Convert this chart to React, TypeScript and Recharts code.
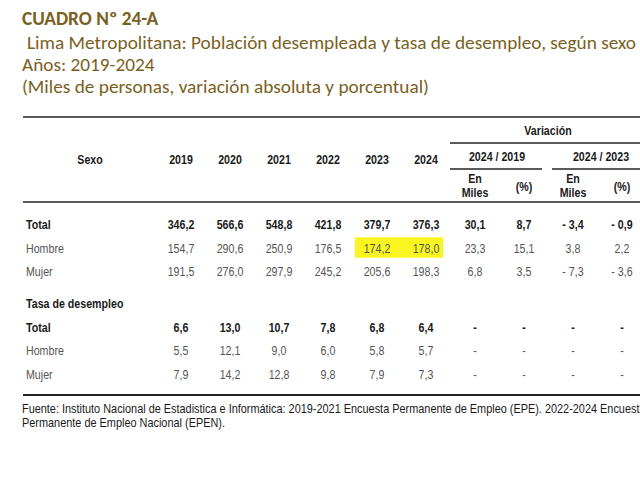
import React from 'react';
import { ScatterChart, Scatter, XAxis, YAxis, ReferenceArea, Customized } from 'recharts';

// ---------- DATA ----------
const years = ['2019', '2020', '2021', '2022', '2023', '2024'];
const rowLabels = ['Total', 'Hombre', 'Mujer'];
const tasaTitle = 'Tasa de desempleo';
const variationTitle = 'Variación';
const variationGroups = ['2024 / 2019', '2024 / 2023'];

// Miles de personas: 2019..2024, var 24/19 (miles, %), var 24/23 (miles, %)
const totalMiles = [346.2, 566.6, 548.8, 421.8, 379.7, 376.3, 30.1, 8.7, -3.4, -0.9];
const hombreMiles = [154.7, 290.6, 250.9, 176.5, 174.2, 178.0, 23.3, 15.1, 3.8, 2.2];
const mujerMiles = [191.5, 276.0, 297.9, 245.2, 205.6, 198.3, 6.8, 3.5, -7.3, -3.6];

// Tasa de desempleo (%): variations not available
const totalTasa = [6.6, 13.0, 10.7, 7.8, 6.8, 6.4, null, null, null, null];
const hombreTasa = [5.5, 12.1, 9.0, 6.0, 5.8, 5.7, null, null, null, null];
const mujerTasa = [7.9, 14.2, 12.8, 9.8, 7.9, 7.3, null, null, null, null];

// ---------- LAYOUT ----------
const W = 640;
const H = 480;
const COL0 = 181;
const COL_W = 49;
const LABEL_PX = 26;
const ROW_H = 23.4;
const TOP_A = 225;
const TOP_B = 304;
const NARROW = 0.82;

const TABLE_FONT = "'Liberation Sans', Arial, sans-serif";
const TITLE_FONT = "Carlito, Calibri, Lato, sans-serif";
const TITLE_COLOR = '#7a5f22';

const labelC = (LABEL_PX - COL0) / COL_W;
const hdrR = (px: number) => (px - TOP_A) / ROW_H;

const fmt = (v: number | null) => {
  if (v === null) return '-';
  const s = Math.abs(v).toFixed(1).replace('.', ',');
  return v < 0 ? '- ' + s : s;
};

type Cell = { c: number; r: number; text: string; bold?: boolean; anchor?: string; header?: boolean };

const buildSection = (rows: (number | null)[][], offset: number): Cell[] => {
  const out: Cell[] = [];
  rows.forEach((vals, i) => {
    out.push({ c: labelC, r: i + offset, text: rowLabels[i], bold: i === 0, anchor: 'start' });
    vals.forEach((v, j) => {
      out.push({ c: j, r: i + offset, text: fmt(v), bold: i === 0 });
    });
  });
  return out;
};

const milesCells = buildSection([totalMiles, hombreMiles, mujerMiles], 0);
const tasaCells: Cell[] = [
  { c: labelC, r: 0, text: tasaTitle, bold: true, anchor: 'start' },
  ...buildSection([totalTasa, hombreTasa, mujerTasa], 1),
];

const headerCells: Cell[] = [
  { c: (90 - COL0) / COL_W, r: hdrR(160), text: 'Sexo', header: true },
  ...years.map((y, j) => ({ c: j, r: hdrR(160), text: y, header: true })),
  ...[6, 8].flatMap((j) => [
    { c: j, r: hdrR(179), text: 'En', header: true },
    { c: j, r: hdrR(193), text: 'Miles', header: true },
    { c: j + 1, r: hdrR(187), text: '(%)', header: true },
  ]),
];

const NText = ({ x, y, anchor = 'start', size = 13, bold = false, fill = '#1a1a1a', children }: any) => (
  <text
    transform={`translate(${x},${y}) scale(${NARROW},1)`}
    x={0}
    y={0}
    textAnchor={anchor}
    dominantBaseline="central"
    fontFamily={TABLE_FONT}
    fontSize={size}
    fontWeight={bold ? 700 : 400}
    fill={fill}
  >
    {children}
  </text>
);

const renderCell = (props: any) => {
  const p: Cell = props.payload;
  const isHeader = !!p.header;
  const light = !p.bold && !isHeader;
  return (
    <NText x={props.cx} y={props.cy} anchor={p.anchor || 'middle'} bold={p.bold || isHeader} fill={light ? '#555' : '#1a1a1a'}>
      {p.text}
    </NText>
  );
};

const TitleText = ({ y, x = 22, bold = false, size = 19.3, children }: any) => (
  <text x={x} y={y} dominantBaseline="central" fontFamily={TITLE_FONT} fontSize={size} fontWeight={bold ? 700 : 400} fill={TITLE_COLOR}>
    {children}
  </text>
);

const Decor = () => (
  <g>
    <TitleText y={18} bold>CUADRO Nº 24-A</TitleText>
    <TitleText y={42} x={27}>Lima Metropolitana: Población desempleada y tasa de desempleo, según sexo</TitleText>
    <TitleText y={64}>Años: 2019-2024</TitleText>
    <TitleText y={86}>(Miles de personas, variación absoluta y porcentual)</TitleText>

    <line x1={23} x2={640} y1={117} y2={117} stroke="#222" strokeWidth={1.6} />
    <NText x={548} y={131} anchor="middle" bold>{variationTitle}</NText>
    <line x1={450} x2={640} y1={143} y2={143} stroke="#222" strokeWidth={1.3} />
    <NText x={497} y={157} anchor="middle" bold>{variationGroups[0]}</NText>
    <NText x={601} y={157} anchor="middle" bold>{variationGroups[1]}</NText>
    <line x1={450} x2={542} y1={169} y2={169} stroke="#222" strokeWidth={1.3} />
    <line x1={552} x2={640} y1={169} y2={169} stroke="#222" strokeWidth={1.3} />
    <line x1={23} x2={640} y1={202} y2={202} stroke="#222" strokeWidth={1.6} />
    <line x1={23} x2={640} y1={395} y2={395} stroke="#222" strokeWidth={2.2} />

    <NText x={22} y={409} size={13.3}>
      Fuente: Instituto Nacional de Estadistica e Informática: 2019-2021 Encuesta Permanente de Empleo (EPE). 2022-2024 Encuesta
    </NText>
    <NText x={22} y={423} size={13.3}>Permanente de Empleo Nacional (EPEN).</NText>
  </g>
);

export default function App() {
  return (
    <div style={{ position: 'absolute', left: 0, top: 0, width: W, height: H, background: '#fff', overflow: 'hidden' }}>
      <ScatterChart width={W} height={H} margin={{ top: 0, right: 0, bottom: 0, left: 0 }}>
        <XAxis xAxisId="x" dataKey="c" type="number" domain={[-COL0 / COL_W, (W - COL0) / COL_W]} allowDataOverflow hide />
        <YAxis yAxisId="a" dataKey="r" type="number" domain={[-TOP_A / ROW_H, (H - TOP_A) / ROW_H]} reversed allowDataOverflow hide />
        <YAxis yAxisId="b" dataKey="r" type="number" domain={[-TOP_B / ROW_H, (H - TOP_B) / ROW_H]} reversed allowDataOverflow hide />
        <ReferenceArea xAxisId="x" yAxisId="a" x1={3.55} x2={5.35} y1={0.52} y2={1.4} fill="#f8f520" fillOpacity={1} stroke="none" ifOverflow="visible" />
        <Customized component={<Decor />} />
        <Scatter xAxisId="x" yAxisId="a" data={headerCells} shape={renderCell} isAnimationActive={false} />
        <Scatter xAxisId="x" yAxisId="a" data={milesCells} shape={renderCell} isAnimationActive={false} />
        <Scatter xAxisId="x" yAxisId="b" data={tasaCells} shape={renderCell} isAnimationActive={false} />
      </ScatterChart>
    </div>
  );
}
